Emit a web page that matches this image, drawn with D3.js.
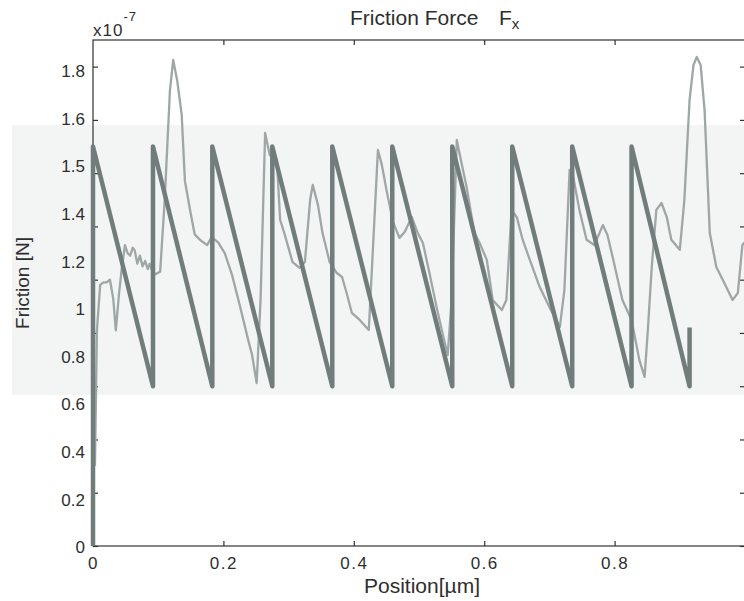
<!DOCTYPE html>
<html lang="en">
<head>
    <meta charset="UTF-8">
    <title>Friction Force Fx</title>
    <script src="https://d3js.org/d3.v7.min.js"></script>
    <style>
        body { margin: 0; background: #fff; }
        text { font-family: "Liberation Sans", Arial, sans-serif; fill: #2e2e2e; }
    </style>
</head>
<body>
    <svg width="744" height="601"></svg>

    <script>
        // Sawtooth (model) - position in um, friction in 1e-7 N
        const sawX = [0, 0, 0.092, 0.092, 0.183, 0.183, 0.275, 0.275, 0.367, 0.367, 0.459, 0.459,
                      0.551, 0.551, 0.643, 0.643, 0.735, 0.735, 0.826, 0.826, 0.915, 0.915];
        const sawY = [0, 1.5, 0.6, 1.5, 0.6, 1.5, 0.6, 1.5, 0.6, 1.5, 0.6, 1.5,
                      0.6, 1.5, 0.6, 1.5, 0.6, 1.5, 0.6, 1.5, 0.6, 0.82];

        // Measured friction trace
        const measX = [0.003, 0.006, 0.011, 0.016, 0.021, 0.026, 0.031, 0.035, 0.040, 0.044, 0.049, 0.053, 0.057, 0.061,
                       0.064, 0.068, 0.072, 0.076, 0.080, 0.084, 0.087, 0.091, 0.095, 0.103, 0.110, 0.118, 0.123,
                       0.129, 0.136, 0.141, 0.149, 0.156, 0.164, 0.175, 0.182, 0.192, 0.202, 0.213, 0.225, 0.238,
                       0.244, 0.251, 0.257, 0.264, 0.271, 0.282, 0.287, 0.294, 0.306, 0.317, 0.325, 0.333, 0.337,
                       0.345, 0.352, 0.363, 0.374, 0.382, 0.389, 0.397, 0.409, 0.423, 0.429, 0.437, 0.443, 0.451,
                       0.460, 0.470, 0.478, 0.489, 0.498, 0.506, 0.516, 0.527, 0.536, 0.544, 0.550, 0.558, 0.562,
                       0.573, 0.585, 0.593, 0.604, 0.613, 0.627, 0.634, 0.642, 0.650, 0.659, 0.670, 0.685, 0.700,
                       0.716, 0.723, 0.731, 0.736, 0.746, 0.757, 0.769, 0.782, 0.789, 0.797, 0.812, 0.826, 0.838,
                       0.846, 0.851, 0.857, 0.864, 0.872, 0.880, 0.887, 0.900, 0.907, 0.915, 0.921, 0.926, 0.932,
                       0.938, 0.946, 0.956, 0.966, 0.981, 0.989, 0.996, 0.999];
        const measY = [0.30, 0.81, 0.98, 0.99, 0.99, 1.00, 0.93, 0.81, 0.95, 1.04, 1.13, 1.10, 1.09, 1.12,
                       1.11, 1.06, 1.09, 1.05, 1.07, 1.04, 1.06, 1.03, 1.02, 1.03, 1.30, 1.71, 1.825,
                       1.75, 1.62, 1.37, 1.26, 1.17, 1.15, 1.13, 1.16, 1.14, 1.10, 1.02, 0.905, 0.774,
                       0.717, 0.612, 0.924, 1.551, 1.468, 1.449, 1.225, 1.17, 1.066, 1.044, 1.066, 1.299, 1.356,
                       1.281, 1.175, 1.066, 1.025, 1.010, 0.950, 0.875, 0.849, 0.811, 1.10, 1.487, 1.431, 1.326,
                       1.218, 1.157, 1.179, 1.235, 1.175, 1.138, 1.025, 0.897, 0.800, 0.717, 0.924, 1.525, 1.476,
                       1.348, 1.175, 1.138, 1.074, 0.924, 0.886, 0.924, 1.262, 1.235, 1.150, 1.074, 0.973, 0.897,
                       0.822, 0.961, 1.412, 1.393, 1.262, 1.150, 1.130, 1.205, 1.168, 1.085, 0.924, 0.849, 0.698,
                       0.635, 0.811, 1.048, 1.262, 1.288, 1.235, 1.150, 1.112, 1.299, 1.675, 1.806, 1.836, 1.806,
                       1.637, 1.175, 1.048, 0.999, 0.924, 0.950, 1.130, 1.140];

        // Tick values and labels
        const xTicks = [0, 0.2, 0.4, 0.6, 0.8];
        const xTickLabels = ["0", "0.2", "0.4", "0.6", "0.8"];
        const yTicks = [0, 0.2, 0.4, 0.6, 0.8, 1.0, 1.2, 1.4, 1.6, 1.8];
        const yTickLabels = ["0", "0.2", "0.4", "0.6", "0.8", "1", "1.2", "1.4", "1.5", "1.6", "1.8"];

        const plotL = 93, plotR = 745, plotT = 40, plotB = 546;

        const svg = d3.select("svg");

        const x = d3.scaleLinear().domain([0, 1]).range([plotL, plotR]);
        const y = d3.scaleLinear().domain([0, 1.9]).range([plotB, plotT]);
        // the left labels sit on an even spacing of their own
        const yLab = d3.scalePoint().domain(yTickLabels).range([547, 71]);

        // light overlay band
        svg.append("rect")
           .attr("x", 12).attr("y", 125)
           .attr("width", 744 - 12).attr("height", 270)
           .attr("fill", "#f3f4f4");

        // axes frame
        svg.append("rect")
           .attr("x", plotL).attr("y", plotT)
           .attr("width", plotR - plotL).attr("height", plotB - plotT)
           .attr("fill", "none")
           .attr("stroke", "#333")
           .attr("stroke-width", 1.2);

        // tick marks pointing inward
        const styleAxis = g => {
            g.select(".domain").remove();
            g.selectAll(".tick line").attr("stroke", "#333").attr("stroke-width", 1.2);
        };

        svg.append("g")
           .attr("transform", `translate(0,${plotB})`)
           .call(d3.axisBottom(x).tickValues(xTicks).tickSize(-5).tickPadding(11)
                 .tickFormat((d, i) => xTickLabels[i]))
           .call(styleAxis)
           .selectAll("text")
           .attr("font-size", 17)
           .attr("letter-spacing", 1.5)
           .attr("font-family", "Liberation Sans, Arial, sans-serif")
           .attr("fill", "#2e2e2e");

        svg.append("g")
           .attr("transform", `translate(0,${plotT})`)
           .call(d3.axisTop(x).tickValues(xTicks.slice(1)).tickSize(-5).tickFormat(""))
           .call(styleAxis);

        svg.append("g")
           .attr("transform", `translate(${plotL},0)`)
           .call(d3.axisLeft(y).tickValues(yTicks).tickSize(-5).tickFormat(""))
           .call(styleAxis);

        svg.append("g")
           .attr("transform", `translate(${plotR},0)`)
           .call(d3.axisRight(y).tickValues(yTicks).tickSize(-5).tickFormat(""))
           .call(styleAxis);

        // left tick labels
        svg.append("g")
           .selectAll("text")
           .data(yTickLabels)
           .enter()
           .append("text")
           .attr("x", 85)
           .attr("y", d => yLab(d))
           .attr("dy", "0.36em")
           .attr("text-anchor", "end")
           .attr("font-size", 17)
           .text(d => d);

        // lines
        const line = d3.line().x(d => x(d[0])).y(d => y(d[1]));

        svg.append("path")
           .datum(measX.map((v, i) => [v, measY[i]]))
           .attr("d", line)
           .attr("fill", "none")
           .attr("stroke", "#9fa6a6")
           .attr("stroke-width", 2.3)
           .attr("stroke-linejoin", "round");

        svg.append("path")
           .datum(sawX.map((v, i) => [v, sawY[i]]))
           .attr("d", line)
           .attr("fill", "none")
           .attr("stroke", "#717d7b")
           .attr("stroke-width", 4.5)
           .attr("stroke-linejoin", "round");

        // exponent
        const ex = svg.append("text").attr("x", 93).attr("y", 36)
           .attr("font-size", 17).attr("letter-spacing", 1);
        ex.append("tspan").text("x10");
        ex.append("tspan").attr("dy", -15).attr("font-size", 13).text("-7");

        // title
        const title = svg.append("text")
           .attr("x", 350).attr("y", 25)
           .attr("font-size", 21);
        title.append("tspan").text("Friction Force");
        title.append("tspan").attr("x", 499).text("F");
        title.append("tspan").attr("dy", 4).attr("font-size", 15).text("x");

        // axis titles
        svg.append("text")
           .attr("x", 422).attr("y", 593)
           .attr("text-anchor", "middle")
           .attr("font-size", 21)
           .text("Position[\u00b5m]");

        svg.append("text")
           .attr("transform", "translate(29,283) rotate(-90)")
           .attr("text-anchor", "middle")
           .attr("font-size", 19)
           .text("Friction [N]");
    </script>
</body>
</html>
